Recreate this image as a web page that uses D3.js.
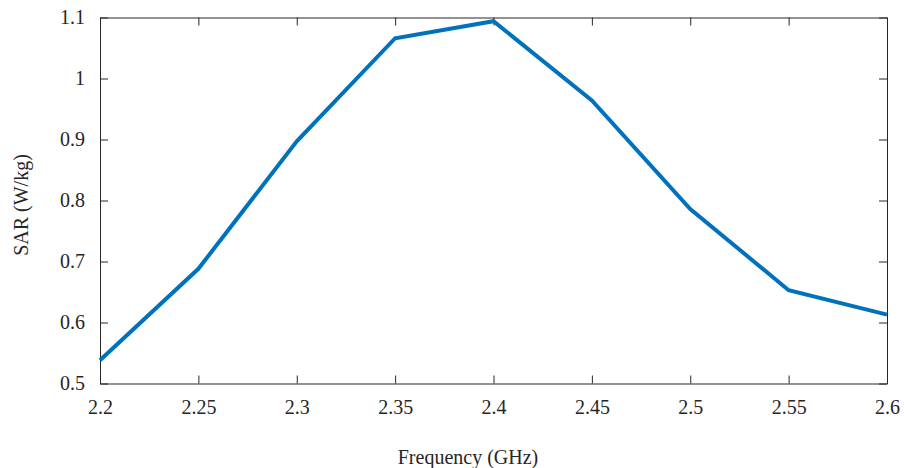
<!DOCTYPE html>
<html>
<head>
<meta charset="utf-8">
<script src="https://cdn.jsdelivr.net/npm/d3@7"></script>
<style>
  body { margin: 0; background: #fff; }
  text { font-family: "Liberation Serif", "DejaVu Serif", serif; fill: #262626; }
</style>
</head>
<body>
<div id="chart"></div>
<script>
// data
var freq = [2.2, 2.25, 2.3, 2.35, 2.4, 2.45, 2.5, 2.55, 2.6]
var sar = [0.538, 0.688, 0.897, 1.066, 1.094, 0.964, 0.786, 0.653, 0.613]
var xTicks = [2.2, 2.25, 2.3, 2.35, 2.4, 2.45, 2.5, 2.55, 2.6]
var yTicks = [0.5, 0.6, 0.7, 0.8, 0.9, 1, 1.1]

var draw = function () {
  var W = 904, H = 468
  var mLeft = 100, mRight = 887, mTop = 17.5, mBottom = 383.5
  var axisColor = "#262626"
  var serif = '"Liberation Serif", "DejaVu Serif", serif'

  var svg = d3.select("#chart").append("svg")
    .attr("width", W)
    .attr("height", H)

  var x = d3.scaleLinear().domain([2.2, 2.6]).range([mLeft, mRight])
  var y = d3.scaleLinear().domain([0.5, 1.1]).range([mBottom, mTop])

  // axes, ticks pointing inward like matlab
  var tickLen = 8
  var fmt = function (d) { return String(+d.toFixed(2)) }

  svg.append("g")
    .attr("transform", "translate(0," + mBottom + ")")
    .call(d3.axisBottom(x).tickValues(xTicks).tickFormat(fmt).tickSizeInner(-tickLen).tickSizeOuter(0).tickPadding(16))
  svg.append("g")
    .attr("transform", "translate(0," + mTop + ")")
    .call(d3.axisTop(x).tickValues(xTicks).tickFormat("").tickSizeInner(-tickLen).tickSizeOuter(0))
  svg.append("g")
    .attr("transform", "translate(" + mLeft + ",0)")
    .call(d3.axisLeft(y).tickValues(yTicks).tickFormat(fmt).tickSizeInner(-tickLen).tickSizeOuter(0).tickPadding(15))
  svg.append("g")
    .attr("transform", "translate(" + mRight + ",0)")
    .call(d3.axisRight(y).tickValues(yTicks).tickFormat("").tickSizeInner(-tickLen).tickSizeOuter(0))

  svg.selectAll("g")
    .attr("font-family", serif)
    .attr("font-size", 20)
  svg.selectAll(".domain, .tick line")
    .attr("stroke", axisColor)
    .attr("stroke-width", 1)
  svg.selectAll(".tick text")
    .attr("fill", axisColor)

  // data line
  var line = d3.line()
    .x(function (d, i) { return x(freq[i]) })
    .y(function (d) { return y(d) })

  svg.append("path")
    .datum(sar)
    .attr("fill", "none")
    .attr("stroke", "#0072BD")
    .attr("stroke-width", 4)
    .attr("stroke-linejoin", "miter")
    .attr("d", line)

  // labels
  svg.append("text")
    .attr("x", 468)
    .attr("y", 464)
    .attr("text-anchor", "middle")
    .attr("font-family", serif)
    .attr("font-size", 20)
    .text("Frequency (GHz)")

  svg.append("text")
    .attr("transform", "translate(28,205) rotate(-90)")
    .attr("text-anchor", "middle")
    .attr("font-family", serif)
    .attr("font-size", 20)
    .text("SAR (W/kg)")
}
draw()
</script>
</body>
</html>
